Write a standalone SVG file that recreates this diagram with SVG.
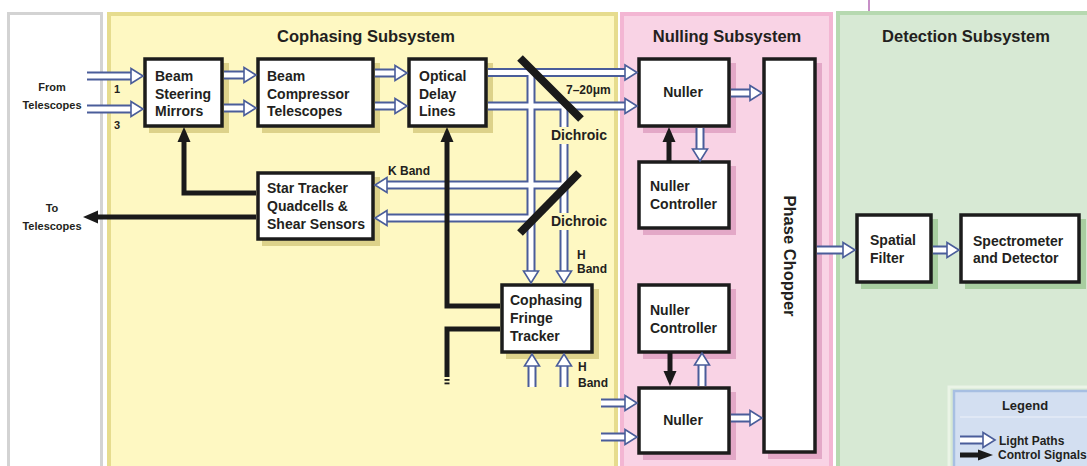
<svg xmlns="http://www.w3.org/2000/svg" xmlns:xlink="http://www.w3.org/1999/xlink" width="1087" height="466" viewBox="0 0 1087 466">
<style>
.t{font-family:"Liberation Sans",Arial,sans-serif;font-weight:bold;font-size:14px;fill:#231f20}
.ttl{font-size:16.5px}
.sm{font-size:12px}
.xs{font-size:11px}
.lg{font-size:13px}
.mid{text-anchor:middle}
.box{fill:#fff;stroke:#1c1c1c;stroke-width:3.5}
.shY{fill:#ddd28a}
.shP{fill:#e3a8c7}
.shG{fill:#a8cea0}
.lo{fill:none;stroke:#4a5d9a;stroke-width:9}
.li{fill:none;stroke:#fff;stroke-width:5}
.cs{fill:none;stroke:#1a1a1a;stroke-width:5;stroke-linejoin:miter}
.di{stroke:#1a1a1a;stroke-width:8}
.bgY{fill:#fef8c2}
</style>
<defs>
<polygon id="lh" points="0,0 -12,-7.5 -12,7.5" fill="#fff" stroke="#4a5d9a" stroke-width="1.6"/>
<polygon id="ch" points="0,0 -15,-6.5 -15,6.5" fill="#1a1a1a"/>
</defs>

<g id="panels">
<rect x="8.5" y="13.5" width="93" height="460" fill="#fff" stroke="#d3d3d3" stroke-width="3"/>
<rect x="109" y="14" width="507" height="460" fill="#fef8c2" stroke="#e6dc8e" stroke-width="4"/>
<rect x="622" y="14" width="209" height="460" fill="#f9d3e5" stroke="#f3b6d3" stroke-width="4"/>
<rect x="838" y="13" width="260" height="460" fill="#d7e9d4" stroke="#b6d9b0" stroke-width="4"/>
<line x1="869" y1="0" x2="869" y2="11" stroke="#c78fc7" stroke-width="2"/>
<text class="t ttl mid" x="366" y="42">Cophasing Subsystem</text>
<text class="t ttl mid" x="727" y="42">Nulling Subsystem</text>
<text class="t ttl mid" x="966" y="42">Detection Subsystem</text>
</g>

<g id="labels">
<text class="t xs mid" x="52" y="91">From</text>
<text class="t xs mid" x="52" y="109">Telescopes</text>
<text class="t xs" x="114" y="93">1</text>
<text class="t xs" x="114" y="129">3</text>
<text class="t xs mid" x="52" y="212">To</text>
<text class="t xs mid" x="52" y="230">Telescopes</text>
<text class="t sm" x="388" y="175">K Band</text>
<text class="t sm" x="566" y="94">7–20μm</text>
<text class="t sm" x="577" y="259">H</text>
<text class="t sm" x="577" y="273">Band</text>
<text class="t sm" x="578" y="371">H</text>
<text class="t sm" x="578" y="387">Band</text>
</g>

<g id="bsm">
<rect class="shY" x="149" y="63" width="80" height="70"/>
<rect class="box" x="145" y="59" width="77" height="67"/>
<text class="t" x="155" y="81">Beam</text>
<text class="t" x="155" y="98.5">Steering</text>
<text class="t" x="155" y="116">Mirrors</text>
</g>
<g id="bct">
<rect class="shY" x="262" y="63" width="118" height="70"/>
<rect class="box" x="258" y="59" width="115" height="67"/>
<text class="t" x="267" y="81">Beam</text>
<text class="t" x="267" y="98.5">Compressor</text>
<text class="t" x="267" y="116">Telescopes</text>
</g>
<g id="odl">
<rect class="shY" x="413" y="63" width="80" height="70"/>
<rect class="box" x="409" y="59" width="77" height="67"/>
<text class="t" x="419" y="81">Optical</text>
<text class="t" x="419" y="98.5">Delay</text>
<text class="t" x="419" y="116">Lines</text>
</g>
<g id="star">
<rect class="shY" x="262" y="177" width="118" height="69"/>
<rect class="box" x="258" y="173" width="115" height="66"/>
<text class="t" x="267" y="193">Star Tracker</text>
<text class="t" x="267" y="211">Quadcells &amp;</text>
<text class="t" x="267" y="229">Shear Sensors</text>
</g>
<g id="cft">
<rect class="shY" x="506" y="289" width="93" height="70"/>
<rect class="box" x="502" y="285" width="90" height="67"/>
<text class="t" x="510" y="305">Cophasing</text>
<text class="t" x="510" y="323">Fringe</text>
<text class="t" x="510" y="341">Tracker</text>
</g>
<g id="nuller1">
<rect class="shP" x="643" y="63" width="93" height="70"/>
<rect class="box" x="639" y="59" width="90" height="67"/>
<text class="t mid" x="683" y="97">Nuller</text>
</g>
<g id="nctrl1">
<rect class="shP" x="643" y="166" width="93" height="69"/>
<rect class="box" x="639" y="162" width="90" height="66"/>
<text class="t" x="650" y="191">Nuller</text>
<text class="t" x="650" y="209">Controller</text>
</g>
<g id="nctrl2">
<rect class="shP" x="643" y="289" width="93" height="70"/>
<rect class="box" x="639" y="285" width="90" height="67"/>
<text class="t" x="650" y="315">Nuller</text>
<text class="t" x="650" y="333">Controller</text>
</g>
<g id="nuller2">
<rect class="shP" x="643" y="392" width="93" height="68"/>
<rect class="box" x="639" y="388" width="90" height="65"/>
<text class="t mid" x="683" y="425">Nuller</text>
</g>
<g id="chopper">
<rect class="shP" x="768" y="63" width="54" height="396"/>
<rect class="box" x="764" y="59" width="51" height="393"/>
<text class="t mid" style="font-size:16.5px" transform="translate(784,256) rotate(90)">Phase Chopper</text>
</g>
<g id="spatial">
<rect class="shG" x="861" y="219" width="77" height="70"/>
<rect class="box" x="857" y="215" width="74" height="67"/>
<text class="t" x="870" y="245">Spatial</text>
<text class="t" x="870" y="263">Filter</text>
</g>
<g id="spectro">
<rect class="shG" x="965" y="219" width="121" height="70"/>
<rect class="box" x="961" y="215" width="118" height="67"/>
<text class="t" x="973" y="246">Spectrometer</text>
<text class="t" x="973" y="263">and Detector</text>
</g>

<g id="connectors">
<g class="lo">
<path d="M87,76H133M87,109H133M224,75H246M224,108H246M375,73H397M375,106H397M488,72.5H627M488,106H627M531,72.5V273M564,106V273M564,185H385M531,218H385M532,387V364M564,387V364M731,93H752M700,128V151M702,386V363M601,403H627M601,437H627M731,418H752M817,250H845M933,250H949"/>
</g>
<g class="li">
<path d="M87,76H133M87,109H133M224,75H246M224,108H246M375,73H397M375,106H397M488,72.5H627M488,106H627M531,72.5V273M564,106V273M564,185H385M531,218H385M532,387V364M564,387V364M731,93H752M700,128V151M702,386V363M601,403H627M601,437H627M731,418H752M817,250H845M933,250H949"/>
</g>
<use xlink:href="#lh" transform="translate(143,76)"/>
<use xlink:href="#lh" transform="translate(143,109)"/>
<use xlink:href="#lh" transform="translate(256,75)"/>
<use xlink:href="#lh" transform="translate(256,108)"/>
<use xlink:href="#lh" transform="translate(407,73)"/>
<use xlink:href="#lh" transform="translate(407,106)"/>
<use xlink:href="#lh" transform="translate(637,72.5)"/>
<use xlink:href="#lh" transform="translate(637,106)"/>
<use xlink:href="#lh" transform="translate(531,283) rotate(90)"/>
<use xlink:href="#lh" transform="translate(564,283) rotate(90)"/>
<use xlink:href="#lh" transform="translate(375,185) rotate(180)"/>
<use xlink:href="#lh" transform="translate(375,218) rotate(180)"/>
<use xlink:href="#lh" transform="translate(532,354) rotate(-90)"/>
<use xlink:href="#lh" transform="translate(564,354) rotate(-90)"/>
<use xlink:href="#lh" transform="translate(762,93)"/>
<use xlink:href="#lh" transform="translate(700,161) rotate(90)"/>
<use xlink:href="#lh" transform="translate(702,353) rotate(-90)"/>
<use xlink:href="#lh" transform="translate(637,403)"/>
<use xlink:href="#lh" transform="translate(637,437)"/>
<use xlink:href="#lh" transform="translate(762,418)"/>
<use xlink:href="#lh" transform="translate(855,250)"/>
<use xlink:href="#lh" transform="translate(959,250)"/>

<line class="di" x1="520" y1="58" x2="581" y2="119"/>
<line class="di" x1="520" y1="233" x2="579" y2="173"/>

<path class="cs" d="M256,193H184V140"/>
<path class="cs" d="M256,217H96"/>
<path class="cs" d="M500,306H447V140"/>
<path class="cs" d="M500,329H447V377"/>
<rect x="444.5" y="379" width="5" height="1.8" fill="#1a1a1a"/>
<rect x="444.5" y="382.5" width="5" height="1.8" fill="#1a1a1a"/>
<path class="cs" d="M669,162V140"/>
<path class="cs" d="M670,353V373"/>
<use xlink:href="#ch" transform="translate(184,127) rotate(-90)"/>
<use xlink:href="#ch" transform="translate(83,217) rotate(180)"/>
<use xlink:href="#ch" transform="translate(447,127) rotate(-90)"/>
<use xlink:href="#ch" transform="translate(669,127) rotate(-90)"/>
<use xlink:href="#ch" transform="translate(670,386) rotate(90)"/>
</g>

<g id="dichroic-labels">
<rect class="bgY" x="549" y="127" width="60" height="17"/>
<text class="t" x="551" y="140">Dichroic</text>
<rect class="bgY" x="549" y="213" width="60" height="17"/>
<text class="t" x="551" y="226">Dichroic</text>
</g>

<g id="legend">
<rect x="949" y="387" width="150" height="90" fill="none" stroke="#eaf4e6" stroke-width="3"/>
<rect x="954" y="391" width="145" height="85" fill="#d3dff1" stroke="#a7bfe2" stroke-width="2.5"/>
<text class="t lg mid" x="1025" y="410">Legend</text>
<line x1="960" y1="417" x2="1090" y2="417" stroke="#eef2fa" stroke-width="1.2"/>
<path class="lo" d="M960,440H984"/>
<path class="li" d="M960,440H984"/>
<use xlink:href="#lh" transform="translate(995,440)"/>
<text class="t sm" x="999" y="445">Light Paths</text>
<path class="cs" d="M960,455H980"/>
<polygon points="993,455 978,449.5 978,460.5" fill="#1a1a1a"/>
<text class="t sm" x="998" y="459">Control Signals</text>
</g>
</svg>
